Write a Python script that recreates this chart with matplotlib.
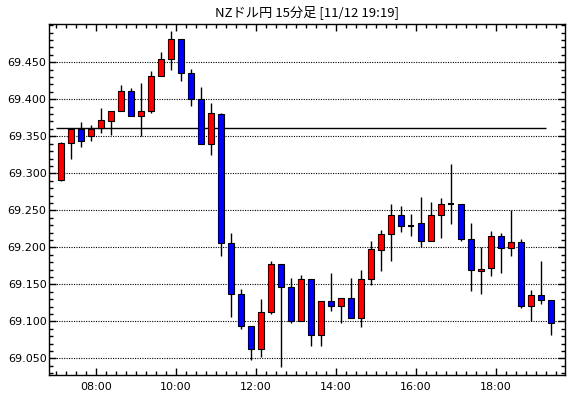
import numpy as np
import matplotlib
matplotlib.use("Agg")
import matplotlib.pyplot as plt
from matplotlib.ticker import MultipleLocator, FixedLocator, FuncFormatter

plt.rcParams['font.family'] = ['DejaVu Sans']

# 15分足 07:00 - 19:15
start_hour = 7.0
opens = [69.291, 69.341, 69.360, 69.350, 69.361, 69.370, 69.384, 69.411, 69.378, 69.384,
         69.431, 69.454, 69.481, 69.435, 69.400, 69.340, 69.380, 69.206, 69.137, 69.094,
         69.063, 69.112, 69.178, 69.147, 69.101, 69.157, 69.081, 69.127, 69.121, 69.131,
         69.105, 69.157, 69.196, 69.218, 69.243, 69.229, 69.233, 69.209, 69.243, 69.258,
         69.258, 69.211, 69.168, 69.172, 69.215, 69.199, 69.207, 69.121, 69.135, 69.129]
highs = [69.342, 69.360, 69.369, 69.365, 69.388, 69.384, 69.419, 69.415, 69.422, 69.438,
         69.464, 69.492, 69.482, 69.441, 69.417, 69.395, 69.381, 69.220, 69.144, 69.094,
         69.130, 69.182, 69.178, 69.159, 69.163, 69.157, 69.127, 69.165, 69.132, 69.159,
         69.169, 69.209, 69.224, 69.259, 69.256, 69.245, 69.268, 69.261, 69.267, 69.313,
         69.259, 69.233, 69.200, 69.222, 69.219, 69.250, 69.211, 69.142, 69.182, 69.129]
lows = [69.290, 69.319, 69.336, 69.344, 69.355, 69.352, 69.384, 69.377, 69.350, 69.382,
        69.431, 69.440, 69.425, 69.391, 69.340, 69.325, 69.188, 69.106, 69.090, 69.048,
        69.052, 69.110, 69.038, 69.098, 69.101, 69.067, 69.067, 69.114, 69.098, 69.104,
        69.093, 69.149, 69.168, 69.181, 69.221, 69.215, 69.200, 69.209, 69.212, 69.231,
        69.208, 69.141, 69.137, 69.161, 69.165, 69.188, 69.118, 69.101, 69.123, 69.082]
closes = [69.341, 69.360, 69.343, 69.360, 69.372, 69.384, 69.411, 69.378, 69.384, 69.432,
          69.454, 69.482, 69.435, 69.400, 69.340, 69.381, 69.206, 69.137, 69.094, 69.063,
          69.112, 69.178, 69.147, 69.101, 69.157, 69.081, 69.127, 69.121, 69.132, 69.105,
          69.157, 69.198, 69.218, 69.243, 69.229, 69.229, 69.209, 69.243, 69.259, 69.258,
          69.211, 69.170, 69.171, 69.215, 69.199, 69.207, 69.121, 69.135, 69.129, 69.098]
ref_level = 69.361
price_ticks = [69.05, 69.10, 69.15, 69.20, 69.25, 69.30, 69.35, 69.40, 69.45]
title = "NZドル円 15分足 [11/12 19:19]"

n = len(opens)
x = start_hour + 0.25 * np.arange(n) + 0.125
o = np.array(opens)
c = np.array(closes)

colors = []
lws = []
for oo, cc in zip(o, c):
    if cc > oo:
        colors.append("#ff0000")
        lws.append(0.8)
    elif cc < oo:
        colors.append("#0000ff")
        lws.append(0.8)
    else:
        colors.append("black")
        lws.append(1.5)

fig = plt.figure(figsize=(5.7, 3.98), dpi=100)
ax = fig.add_axes([0.0865, 0.0578, 0.9047, 0.8811])

# grid
for v in price_ticks:
    ax.axhline(v, color="black", lw=0.8, ls=(0, (1, 1.2)), zorder=1)

# reference line
ax.hlines(ref_level, start_hour, start_hour + 0.25 * (n - 1), color="black", lw=1.0, zorder=2)

# wicks + bodies
ax.vlines(x, lows, highs, color="black", lw=1.0, zorder=3)
ax.bar(x, c - o, bottom=o, width=0.15, color=colors, edgecolor="black",
       linewidth=lws, zorder=4)

ax.set_xlim(6.84, 19.73)
ax.set_ylim(69.0275, 69.5013)

ax.xaxis.set_major_locator(MultipleLocator(2))
ax.xaxis.set_minor_locator(MultipleLocator(0.25))
ax.xaxis.set_major_formatter(FuncFormatter(lambda v, p: "%02d:00" % int(round(v))))
ax.yaxis.set_major_locator(FixedLocator(price_ticks))
ax.yaxis.set_minor_locator(MultipleLocator(0.01))
ax.yaxis.set_major_formatter(FuncFormatter(lambda v, p: "%.3f" % v))

ax.tick_params(which="both", direction="in", top=True, right=True, colors="black",
               labelsize=8)
ax.tick_params(which="major", length=5, width=1)
ax.tick_params(which="minor", length=3, width=1)
ax.tick_params(axis="y", pad=2)
ax.tick_params(axis="x", pad=5)

for s in ax.spines.values():
    s.set_linewidth(1.0)
    s.set_color("black")

fig.text(0.5386, 0.97, title, ha="center", va="center", fontsize=9.5,
         family=["Noto Sans CJK JP", "DejaVu Sans"])

fig.savefig("out.png", dpi=100)
